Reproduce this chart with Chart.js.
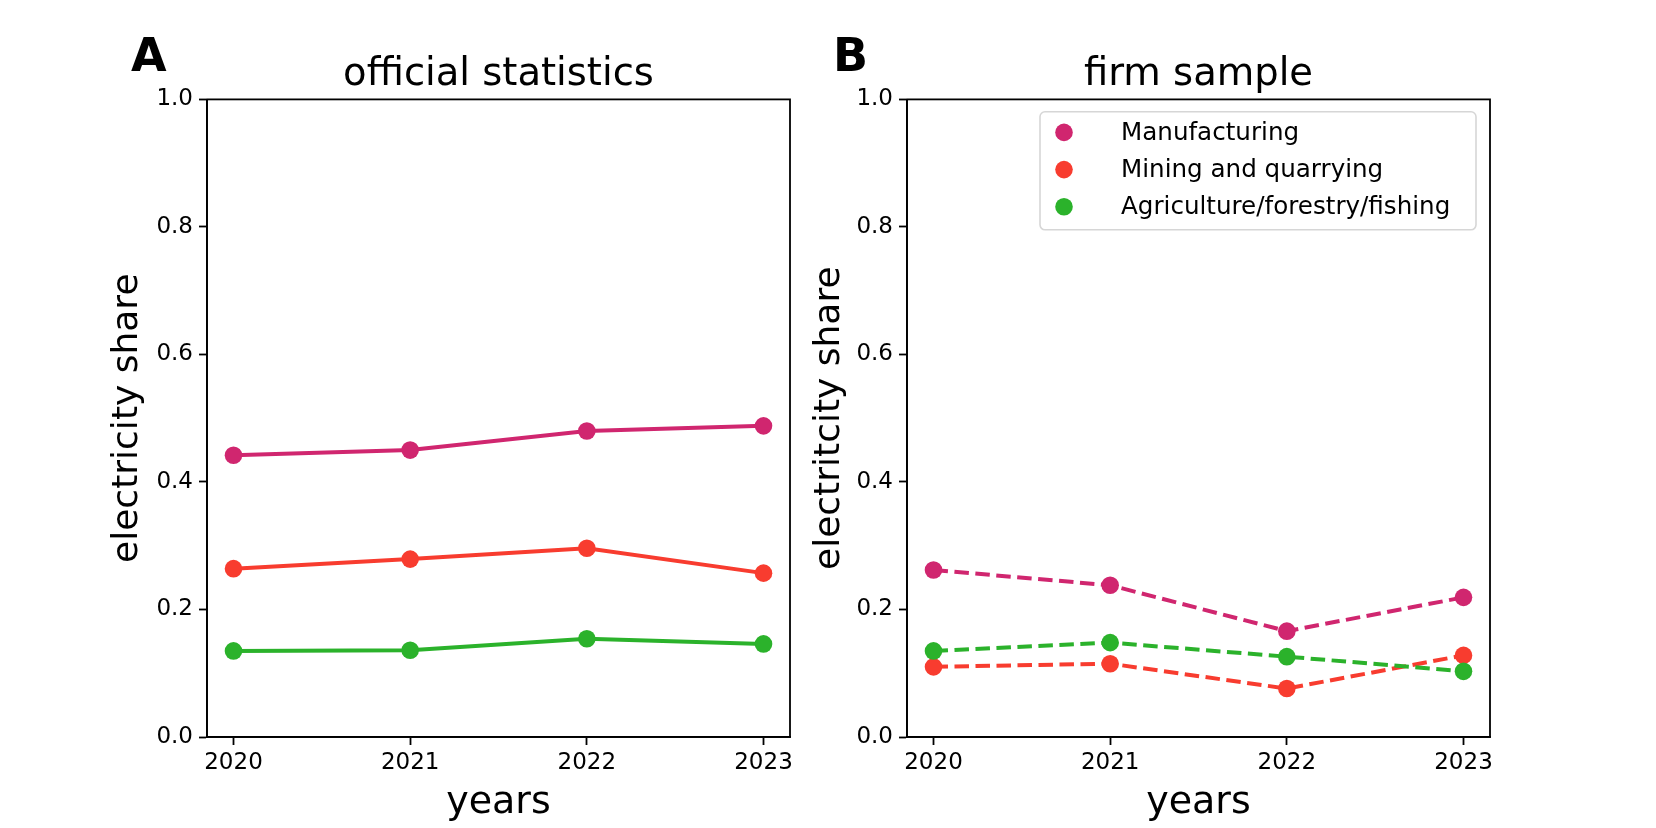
<!DOCTYPE html>
<html>
<head>
<meta charset="utf-8">
<script src="https://cdn.jsdelivr.net/npm/chart.js@4/dist/chart.umd.min.js"></script>
<style>
  html, body { margin:0; padding:0; background:#fff; }
  body { width:1656px; height:828px; position:relative; overflow:hidden; font-family:"DejaVu Sans", sans-serif; }
  .wrap { position:absolute; top:0; height:828px; }
  .panel { position:absolute; font-family:"DejaVu Sans"; font-weight:bold; font-size:46px; line-height:46px; color:#000; }
</style>
</head>
<body>
<div class="wrap" id="wrapA" style="left:0;width:800px"><canvas id="chartA"></canvas></div>
<div class="wrap" id="wrapB" style="left:800px;width:856px"><canvas id="chartB"></canvas></div>
<div class="panel" style="left:131px;top:32px">A</div>
<div class="panel" style="left:833px;top:32px">B</div>
<script>
// values
const years = [2020, 2021, 2022, 2023];
const seriesNames = ['Manufacturing', 'Mining and quarrying', 'Agriculture/forestry/fishing'];
const colors = ['#d0266f', '#f83c2f', '#2bb22b'];

const officialManuf = [0.442, 0.450, 0.480, 0.488];
const officialMining = [0.264, 0.279, 0.296, 0.257];
const officialAgri = [0.135, 0.136, 0.154, 0.146];

const firmManuf = [0.262, 0.238, 0.166, 0.219];
const firmMining = [0.110, 0.115, 0.076, 0.128];
const firmAgri = [0.135, 0.148, 0.126, 0.103];

const yTicks = [0, 0.2, 0.4, 0.6, 0.8, 1.0];

const FONT = '"DejaVu Sans", sans-serif';
const AXW = 1.8;

function points(vals){
  return vals.map((v,i)=> ({x: years[i], y: v}));
}

function makeDatasets(lists, dashed){
  return lists.map((vals,i)=> ({
    label: seriesNames[i],
    data: points(vals),
    borderColor: colors[i],
    backgroundColor: colors[i],
    pointBackgroundColor: colors[i],
    pointBorderWidth: 0,
    pointRadius: 8.8,
    pointHoverRadius: 8.8,
    borderWidth: 4,
    borderDash: dashed ? [14.5, 6.5] : [],
    tension: 0,
    order: 3 - i
  }));
}

// top and right spines
const frame = {
  id: 'frame',
  afterDatasetsDraw(chart){
    const a = chart.chartArea, c = chart.ctx;
    c.save();
    c.strokeStyle = '#000';
    c.lineWidth = AXW;
    c.strokeRect(a.left, a.top, a.right - a.left, a.bottom - a.top);
    c.restore();
  }
};

// matplotlib-like legend box in the upper right of the plot
const boxLegend = {
  id: 'boxLegend',
  afterDraw(chart, args, opts){
    if(!opts.show) return;
    const a = chart.chartArea, c = chart.ctx;
    const w = 436, h = 118;
    const x = a.right - 14 - w, y = a.top + 12.4;
    c.save();
    c.beginPath();
    c.roundRect(x, y, w, h, 5);
    c.fillStyle = 'rgba(255,255,255,0.8)';
    c.fill();
    c.strokeStyle = '#d6d6d6';
    c.lineWidth = 1.6;
    c.stroke();
    c.font = '24.6px ' + FONT;
    c.textBaseline = 'middle';
    chart.data.datasets.forEach((ds,i)=>{
      const cy = y + 20.6 + i * 37.2;
      c.beginPath();
      c.arc(x + 24, cy, 8.8, 0, Math.PI * 2);
      c.fillStyle = ds.borderColor;
      c.fill();
      c.fillStyle = '#000';
      c.fillText(ds.label, x + 81, cy + 1);
    });
    c.restore();
  }
};

function makeChart(id, title, ylabel, datasets, cfg){
  return new Chart(document.getElementById(id), {
    type: 'line',
    data: { datasets },
    plugins: [frame, boxLegend],
    options: {
      responsive: true,
      maintainAspectRatio: false,
      animation: false,
      events: [],
      layout: { padding: { left: 0, right: cfg.right, top: 0, bottom: 0 } },
      plugins: {
        legend: { display: false },
        tooltip: { enabled: false },
        title: {
          display: true,
          text: title,
          fullSize: false,
          color: '#000',
          font: { family: FONT, size: 38.5, weight: 'normal', lineHeight: 1.2 },
          padding: { top: 52, bottom: 1.2 }
        },
        boxLegend: { show: cfg.legend }
      },
      scales: {
        x: {
          type: 'linear',
          min: 2019.85,
          max: 2023.15,
          afterBuildTicks: s => { s.ticks = years.map(v => ({ value: v })); },
          afterFit: s => { s.height = 91; },
          border: { display: true, color: '#000', width: AXW },
          grid: { drawOnChartArea: false, drawTicks: true, tickLength: 8, tickColor: '#000', tickWidth: AXW },
          ticks: {
            color: '#000', padding: 4, maxRotation: 0, autoSkip: false,
            font: { family: FONT, size: 23 },
            callback: v => String(v)
          },
          title: {
            display: true, text: 'years', color: '#000',
            font: { family: FONT, size: 38, lineHeight: 1.2 },
            padding: { top: 0, bottom: 2 }
          }
        },
        y: {
          min: 0,
          max: 1,
          afterBuildTicks: s => { s.ticks = yTicks.map(v => ({ value: v })); },
          afterFit: s => { s.width = cfg.yWidth; },
          border: { display: true, color: '#000', width: AXW },
          grid: { drawOnChartArea: false, drawTicks: true, tickLength: 8, tickColor: '#000', tickWidth: AXW },
          ticks: {
            color: '#000', padding: 6,
            font: { family: FONT, size: 23 },
            callback: v => Number(v).toFixed(1)
          },
          title: {
            display: true, text: ylabel, color: '#000',
            font: { family: FONT, size: 36, lineHeight: 1.2 },
            padding: { top: cfg.titlePad, bottom: 0 }
          }
        }
      }
    }
  });
}

makeChart('chartA', 'official statistics', 'electricity share',
  makeDatasets([officialManuf, officialMining, officialAgri], false),
  { right: 10, yWidth: 207, titlePad: 106, legend: false });

makeChart('chartB', 'firm sample', 'electritcity share',
  makeDatasets([firmManuf, firmMining, firmAgri], true),
  { right: 166, yWidth: 107, titlePad: 8, legend: true });
</script>
</body>
</html>
